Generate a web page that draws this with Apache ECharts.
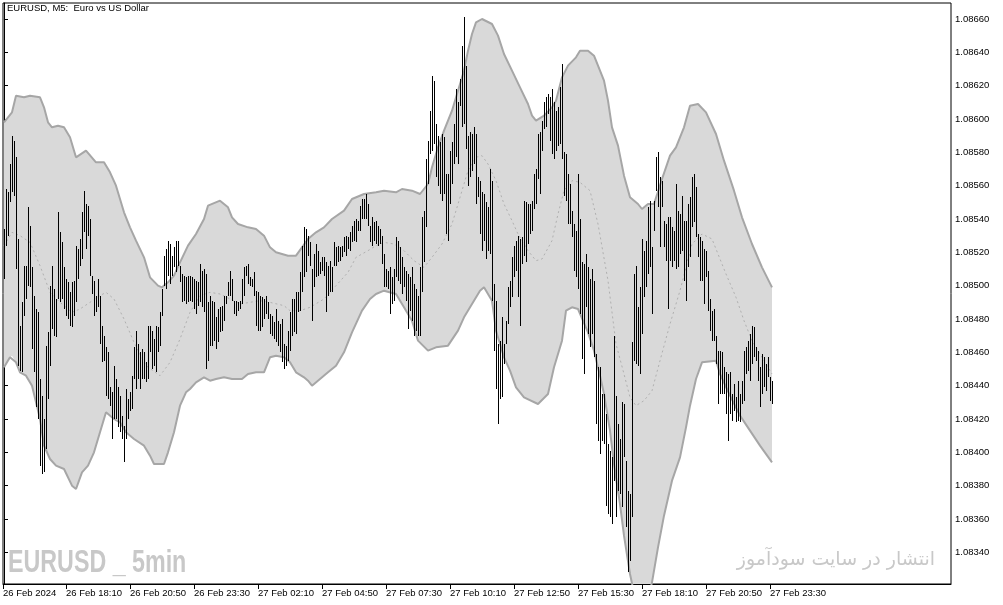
<!DOCTYPE html>
<html><head><meta charset="utf-8">
<script src="https://cdn.jsdelivr.net/npm/echarts@6/dist/echarts.min.js"></script>
<style>html,body{margin:0;padding:0;background:#fff}#c{width:1003px;height:605px}</style>
</head><body><div id="c"></div>
<script>
// ---- data (prices) ----
const highs = [1.08534,1.08558,1.08556,1.08573,1.08590,1.08587,1.08577,1.08528,1.08476,1.08490,1.08512,1.08512,1.08547,1.08536,1.08511,1.08494,1.08486,1.08484,1.08444,1.08434,
1.08420,1.08464,1.08472,1.08500,1.08512,1.08498,1.08492,1.08544,1.08532,1.08526,1.08511,1.08504,1.08502,1.08496,1.08502,1.08503,1.08524,1.08522,1.08528,1.08544,
1.08557,1.08549,1.08548,1.08540,1.08506,1.08503,1.08494,1.08504,1.08494,1.08476,1.08470,1.08463,1.08460,1.08439,1.08436,1.08452,1.08444,1.08439,1.08434,1.08422,
1.08416,1.08438,1.08432,1.08436,1.08446,1.08463,1.08473,1.08465,1.08460,1.08462,1.08460,1.08454,1.08476,1.08476,1.08473,1.08468,1.08476,1.08475,1.08484,1.08498,
1.08518,1.08522,1.08527,1.08525,1.08518,1.08523,1.08527,1.08527,1.08512,1.08507,1.08506,1.08505,1.08506,1.08506,1.08505,1.08504,1.08503,1.08502,1.08513,1.08509,
1.08510,1.08507,1.08490,1.08494,1.08491,1.08490,1.08481,1.08486,1.08487,1.08488,1.08494,1.08494,1.08502,1.08509,1.08504,1.08491,1.08491,1.08490,1.08491,1.08504,
1.08511,1.08512,1.08513,1.08505,1.08504,1.08508,1.08497,1.08496,1.08494,1.08493,1.08492,1.08494,1.08490,1.08483,1.08482,1.08478,1.08486,1.08479,1.08477,1.08480,
1.08465,1.08464,1.08473,1.08484,1.08492,1.08492,1.08496,1.08496,1.08508,1.08524,1.08535,1.08534,1.08530,1.08526,1.08510,1.08519,1.08525,1.08521,1.08514,1.08517,
1.08517,1.08514,1.08512,1.08515,1.08511,1.08526,1.08523,1.08524,1.08523,1.08524,1.08529,1.08530,1.08529,1.08532,1.08536,1.08539,1.08540,1.08539,1.08548,1.08552,
1.08552,1.08555,1.08549,1.08536,1.08541,1.08538,1.08539,1.08536,1.08534,1.08530,1.08519,1.08510,1.08509,1.08511,1.08505,1.08510,1.08529,1.08527,1.08523,1.08517,
1.08511,1.08509,1.08507,1.08505,1.08511,1.08501,1.08498,1.08494,1.08511,1.08541,1.08545,1.08576,1.08587,1.08605,1.08626,1.08623,1.08597,1.08590,1.08586,1.08591,
1.08589,1.08567,1.08567,1.08581,1.08586,1.08597,1.08618,1.08610,1.08624,1.08644,1.08661,1.08632,1.08590,1.08592,1.08591,1.08595,1.08591,1.08565,1.08563,1.08556,
1.08555,1.08550,1.08547,1.08570,1.08563,1.08501,1.08491,1.08465,1.08467,1.08481,1.08465,1.08479,1.08499,1.08503,1.08517,1.08524,1.08527,1.08530,1.08528,1.08529,
1.08551,1.08550,1.08549,1.08549,1.08551,1.08567,1.08570,1.08591,1.08592,1.08599,1.08610,1.08613,1.08615,1.08613,1.08618,1.08610,1.08605,1.08607,1.08619,1.08633,
1.08580,1.08579,1.08567,1.08561,1.08545,1.08537,1.08533,1.08567,1.08540,1.08514,1.08513,1.08519,1.08511,1.08504,1.08510,1.08503,1.08459,1.08451,1.08451,1.08435,
1.08435,1.08423,1.08405,1.08401,1.08397,1.08470,1.08434,1.08417,1.08408,1.08430,1.08429,1.08395,1.08377,1.08375,1.08466,1.08507,1.08512,1.08487,1.08499,1.08528,
1.08521,1.08527,1.08547,1.08551,1.08523,1.08551,1.08577,1.08580,1.08565,1.08563,1.08539,1.08537,1.08541,1.08541,1.08535,1.08533,1.08561,1.08545,1.08543,1.08554,
1.08539,1.08539,1.08549,1.08553,1.08565,1.08567,1.08559,1.08531,1.08529,1.08527,1.08522,1.08521,1.08509,1.08492,1.08485,1.08486,1.08470,1.08461,1.08461,1.08460,
1.08451,1.08448,1.08447,1.08448,1.08435,1.08441,1.08433,1.08443,1.08435,1.08443,1.08461,1.08463,1.08467,1.08471,1.08476,1.08475,1.08463,1.08461,1.08451,1.08459,
1.08457,1.08453,1.08457,1.08445,1.08443];
const lows = [1.08504,1.08524,1.08530,1.08550,1.08556,1.08554,1.08510,1.08452,1.08449,1.08448,1.08482,1.08492,1.08500,1.08499,1.08462,1.08448,1.08427,1.08420,1.08392,1.08387,
1.08388,1.08402,1.08432,1.08452,1.08474,1.08470,1.08469,1.08492,1.08490,1.08492,1.08486,1.08482,1.08480,1.08476,1.08475,1.08482,1.08490,1.08504,1.08512,1.08516,
1.08532,1.08522,1.08530,1.08506,1.08495,1.08482,1.08484,1.08487,1.08465,1.08454,1.08455,1.08434,1.08432,1.08428,1.08408,1.08420,1.08420,1.08415,1.08412,1.08408,
1.08394,1.08408,1.08420,1.08425,1.08426,1.08444,1.08438,1.08444,1.08438,1.08444,1.08444,1.08442,1.08444,1.08460,1.08450,1.08452,1.08448,1.08460,1.08464,1.08482,
1.08500,1.08498,1.08506,1.08501,1.08506,1.08511,1.08508,1.08512,1.08502,1.08490,1.08491,1.08489,1.08490,1.08491,1.08490,1.08486,1.08483,1.08488,1.08490,1.08487,
1.08484,1.08450,1.08455,1.08464,1.08464,1.08467,1.08462,1.08466,1.08472,1.08473,1.08479,1.08489,1.08494,1.08494,1.08491,1.08483,1.08482,1.08485,1.08486,1.08489,
1.08494,1.08506,1.08501,1.08500,1.08499,1.08494,1.08476,1.08473,1.08473,1.08475,1.08480,1.08483,1.08480,1.08471,1.08470,1.08468,1.08466,1.08464,1.08460,1.08454,
1.08450,1.08452,1.08455,1.08461,1.08470,1.08472,1.08471,1.08484,1.08485,1.08496,1.08505,1.08508,1.08518,1.08512,1.08479,1.08499,1.08505,1.08506,1.08507,1.08509,
1.08506,1.08484,1.08494,1.08496,1.08496,1.08512,1.08512,1.08514,1.08515,1.08517,1.08520,1.08518,1.08522,1.08521,1.08526,1.08527,1.08526,1.08533,1.08533,1.08540,
1.08540,1.08540,1.08536,1.08526,1.08524,1.08527,1.08525,1.08524,1.08525,1.08513,1.08499,1.08499,1.08498,1.08483,1.08489,1.08491,1.08505,1.08503,1.08501,1.08495,
1.08499,1.08491,1.08474,1.08485,1.08479,1.08470,1.08473,1.08470,1.08470,1.08496,1.08514,1.08535,1.08561,1.08579,1.08581,1.08585,1.08565,1.08560,1.08555,1.08551,
1.08555,1.08531,1.08527,1.08549,1.08561,1.08573,1.08577,1.08573,1.08608,1.08595,1.08597,1.08582,1.08560,1.08565,1.08569,1.08573,1.08549,1.08553,1.08531,1.08521,
1.08527,1.08516,1.08521,1.08519,1.08491,1.08461,1.08438,1.08417,1.08432,1.08433,1.08453,1.08465,1.08477,1.08487,1.08493,1.08505,1.08509,1.08493,1.08476,1.08513,
1.08518,1.08514,1.08525,1.08531,1.08533,1.08546,1.08549,1.08564,1.08555,1.08581,1.08594,1.08595,1.08603,1.08587,1.08579,1.08576,1.08581,1.08584,1.08585,1.08576,
1.08554,1.08551,1.08537,1.08537,1.08529,1.08509,1.08505,1.08498,1.08483,1.08456,1.08447,1.08487,1.08471,1.08463,1.08471,1.08457,1.08417,1.08407,1.08399,1.08407,
1.08405,1.08368,1.08363,1.08361,1.08357,1.08383,1.08361,1.08377,1.08375,1.08367,1.08397,1.08355,1.08328,1.08335,1.08361,1.08455,1.08453,1.08452,1.08447,1.08471,
1.08493,1.08499,1.08507,1.08511,1.08483,1.08533,1.08557,1.08547,1.08523,1.08547,1.08523,1.08515,1.08486,1.08515,1.08511,1.08515,1.08510,1.08511,1.08519,1.08521,
1.08503,1.08491,1.08511,1.08517,1.08535,1.08538,1.08529,1.08517,1.08503,1.08503,1.08489,1.08505,1.08485,1.08473,1.08467,1.08467,1.08453,1.08429,1.08435,1.08435,
1.08435,1.08423,1.08407,1.08423,1.08419,1.08425,1.08418,1.08419,1.08418,1.08429,1.08431,1.08447,1.08449,1.08443,1.08453,1.08457,1.08455,1.08443,1.08427,1.08435,
1.08439,1.08437,1.08445,1.08431,1.08429];

// Bollinger bands, sampled at bar indices
const upperIdx = [0,4,6,10,13,18,20,22,24,27,30,33,36,41,46,50,53,56,60,63,66,70,73,77,79,82,85,88,92,96,100,102,108,112,114,117,122,126,130,133,136,142,146,149,152,156,160,164,170,174,180,186,190,196,199,204,208,212,214,217,220,224,227,230,232,234,236,239,244,247,250,254,258,262,264,266,270,274,276,279,282,286,288,292,295,298,300,302,304,307,310,313,317,319,322,325,329,333,336,340,343,347,351,356,360,365,369,374,379,384];
const upperVal = [1.08598,1.08604,1.08614,1.08613,1.08614,1.08613,1.08607,1.08598,1.08595,1.08596,1.08595,1.08589,1.08577,1.08581,1.08574,1.08574,1.08568,1.08560,1.08544,1.08535,1.08527,1.08517,1.08505,1.08500,1.08499,1.08502,1.08506,1.08514,1.08524,1.08531,1.08540,1.08548,1.08551,1.08547,1.08541,1.08537,1.08535,1.08534,1.08530,1.08523,1.08520,1.08518,1.08518,1.08523,1.08528,1.08532,1.08535,1.08540,1.08545,1.08552,1.08555,1.08556,1.08557,1.08556,1.08558,1.08557,1.08555,1.08561,1.08571,1.08583,1.08593,1.08605,1.08617,1.08629,1.08641,1.08651,1.08658,1.08660,1.08657,1.08650,1.08639,1.08629,1.08619,1.08609,1.08602,1.08599,1.08602,1.08607,1.08611,1.08625,1.08632,1.08637,1.08641,1.08641,1.08638,1.08629,1.08623,1.08611,1.08595,1.08584,1.08566,1.08553,1.08549,1.08546,1.08549,1.08549,1.08564,1.08578,1.08583,1.08595,1.08608,1.08609,1.08604,1.08591,1.08575,1.08557,1.08541,1.08525,1.08511,1.08499];
const lowerIdx = [0,3,4,6,8,11,14,16,18,20,23,26,30,34,36,39,42,45,48,51,55,58,61,65,70,73,75,80,82,85,88,91,93,96,100,103,106,110,114,119,122,126,130,133,136,140,143,146,150,152,154,158,162,166,170,174,179,183,186,190,196,200,204,207,212,216,222,227,230,234,238,240,244,246,250,253,256,260,267,272,275,279,281,284,287,292,295,298,300,303,305,308,310,313,316,319,322,324,327,330,334,338,341,343,346,349,356,358,363,368,373,378,384];
const lowerVal = [1.08451,1.08457,1.08458,1.08454,1.08448,1.08446,1.08440,1.08430,1.08420,1.08404,1.08396,1.08392,1.08390,1.08380,1.08378,1.08388,1.08392,1.08400,1.08412,1.08424,1.08420,1.08418,1.08412,1.08408,1.08404,1.08398,1.08393,1.08393,1.08400,1.08412,1.08428,1.08436,1.08438,1.08442,1.08445,1.08443,1.08444,1.08445,1.08444,1.08444,1.08447,1.08448,1.08448,1.08457,1.08458,1.08457,1.08454,1.08448,1.08445,1.08443,1.08440,1.08444,1.08448,1.08452,1.08460,1.08472,1.08485,1.08492,1.08495,1.08497,1.08495,1.08487,1.08479,1.08467,1.08461,1.08463,1.08464,1.08473,1.08481,1.08489,1.08497,1.08499,1.08491,1.08473,1.08457,1.08449,1.08439,1.08433,1.08429,1.08435,1.08451,1.08467,1.08485,1.08487,1.08486,1.08472,1.08461,1.08446,1.08435,1.08413,1.08393,1.08369,1.08350,1.08327,1.08310,1.08306,1.08312,1.08322,1.08343,1.08362,1.08383,1.08397,1.08415,1.08428,1.08444,1.08454,1.08455,1.08447,1.08434,1.08422,1.08413,1.08404,1.08394];
const midIdx = [0,4,8,13,18,23,28,34,38,43,48,51,55,60,65,71,78,83,88,93,98,103,108,113,118,123,128,133,140,143,148,153,160,166,172,176,182,186,190,195,200,205,210,214,219,224,228,232,236,239,242,246,250,254,257,262,266,269,274,277,280,284,288,293,297,302,306,310,313,316,320,324,328,333,338,341,344,349,354,357,361,366,370,374,379,384];
const midVal = [1.08524,1.08532,1.08530,1.08526,1.08512,1.08496,1.08490,1.08484,1.08486,1.08490,1.08494,1.08496,1.08492,1.08480,1.08466,1.08452,1.08446,1.08454,1.08468,1.08484,1.08494,1.08496,1.08495,1.08492,1.08489,1.08490,1.08491,1.08490,1.08488,1.08485,1.08485,1.08487,1.08492,1.08500,1.08508,1.08517,1.08521,1.08524,1.08526,1.08525,1.08521,1.08515,1.08511,1.08517,1.08525,1.08537,1.08553,1.08569,1.08577,1.08578,1.08573,1.08563,1.08549,1.08539,1.08531,1.08521,1.08515,1.08516,1.08527,1.08543,1.08557,1.08563,1.08562,1.08557,1.08537,1.08503,1.08465,1.08447,1.08433,1.08428,1.08431,1.08437,1.08455,1.08477,1.08497,1.08511,1.08525,1.08531,1.08528,1.08519,1.08507,1.08493,1.08479,1.08467,1.08457,1.08447];

// axis ticks
const priceTicks = [1.0834,1.0836,1.0838,1.0840,1.0842,1.0844,1.0846,1.0848,1.0850,1.0852,1.0854,1.0856,1.0858,1.0860,1.0862,1.0864,1.0866];
const timeTickIdx = [-0.5,31,63,95,127,159,191,223,255,287,319,351,383];
const timeTickLabels = ['26 Feb 2024','26 Feb 18:10','26 Feb 20:50','26 Feb 23:30','27 Feb 02:10','27 Feb 04:50','27 Feb 07:30','27 Feb 10:10','27 Feb 12:50','27 Feb 15:30','27 Feb 18:10','27 Feb 20:50','27 Feb 23:30'];
const titleText = 'EURUSD, M5:  Euro vs US Dollar';
const watermark = 'EURUSD _ 5min';
const siteText = 'انتشار در سایت سودآموز';

const FONT = "'Liberation Sans',sans-serif";
const barData = highs.map((h, i) => [i, lows[i], h]);
const pairs = (idx, val) => idx.map((x, k) => [x, val[k]]);

const chart = echarts.init(document.getElementById('c'), null, {renderer: 'canvas'});
chart.setOption({
  animation: false,
  backgroundColor: '#fff',
  grid: {left: 3, top: 3, width: 948, height: 581, show: true, borderColor: '#000', borderWidth: 1, backgroundColor: '#fff'},
  xAxis: {
    type: 'value', min: -0.5, max: 473.5, position: 'bottom',
    axisLine: {show: true, lineStyle: {color: '#000', width: 1}},
    axisTick: {show: true, customValues: timeTickIdx, length: 5, lineStyle: {color: '#000'}},
    axisLabel: {customValues: timeTickIdx, color: '#000', fontFamily: FONT, fontSize: 9.5, align: 'left', margin: 4,
      hideOverlap: false, showMaxLabel: true, showMinLabel: true,
      formatter: v => { const k = timeTickIdx.indexOf(v); return k >= 0 ? timeTickLabels[k] : ''; }},
    splitLine: {show: false}
  },
  yAxis: {
    type: 'value', position: 'right', min: 1.08321, max: 1.086696,
    axisLine: {show: true, lineStyle: {color: '#000', width: 1}},
    axisTick: {show: true, customValues: priceTicks, length: 4, lineStyle: {color: '#000'}},
    axisLabel: {customValues: priceTicks, color: '#000', fontFamily: FONT, fontSize: 9.5, margin: 4,
      formatter: v => v.toFixed(5)},
    splitLine: {show: false}
  },
  graphic: [
    {type: 'text', x: 7, y: 3, z: 100, style: {text: titleText, fill: '#000', font: "9.5px " + FONT}},
    {type: 'text', x: 8, y: 548, scaleX: 0.75, z: 100, style: {text: watermark, fill: '#c8c8c8', font: "bold 31px " + FONT}},
    {type: 'text', right: 68, top: 551, z: 100, style: {text: siteText, fill: '#c8c8c8', font: "19px 'DejaVu Sans'"}}
  ],
  series: [
    {
      type: 'custom', name: 'bandFill', z: 1, clip: true, silent: true,
      data: [[0, upperVal[0]]],
      renderItem: (params, api) => {
        const pts = [];
        upperIdx.forEach((x, k) => pts.push(api.coord([x, upperVal[k]])));
        for (let k = lowerIdx.length - 1; k >= 0; k--) pts.push(api.coord([lowerIdx[k], lowerVal[k]]));
        return {type: 'polygon', shape: {points: pts}, style: {fill: '#d9d9d9'}};
      }
    },
    {type: 'line', name: 'upper', z: 2, data: pairs(upperIdx, upperVal), symbol: 'none', silent: true,
      lineStyle: {color: '#a6a6a6', width: 2}},
    {type: 'line', name: 'lower', z: 2, data: pairs(lowerIdx, lowerVal), symbol: 'none', silent: true,
      lineStyle: {color: '#a6a6a6', width: 2}},
    {type: 'line', name: 'middle', z: 2, data: pairs(midIdx, midVal), symbol: 'none', silent: true,
      lineStyle: {color: '#b0b0b0', width: 1, type: [2, 3]}},
    {
      type: 'custom', name: 'bars', z: 3, clip: true, silent: true,
      data: barData,
      encode: {x: 0, y: [1, 2]},
      renderItem: (params, api) => {
        const lo = api.coord([api.value(0), api.value(1)]);
        const hi = api.coord([api.value(0), api.value(2)]);
        const px = Math.round(lo[0]) + 0.5;
        return {type: 'line', shape: {x1: px, y1: Math.round(lo[1]), x2: px, y2: Math.round(hi[1])},
          style: {stroke: '#000', lineWidth: 1}};
      }
    }
  ]
});
</script></body></html>
